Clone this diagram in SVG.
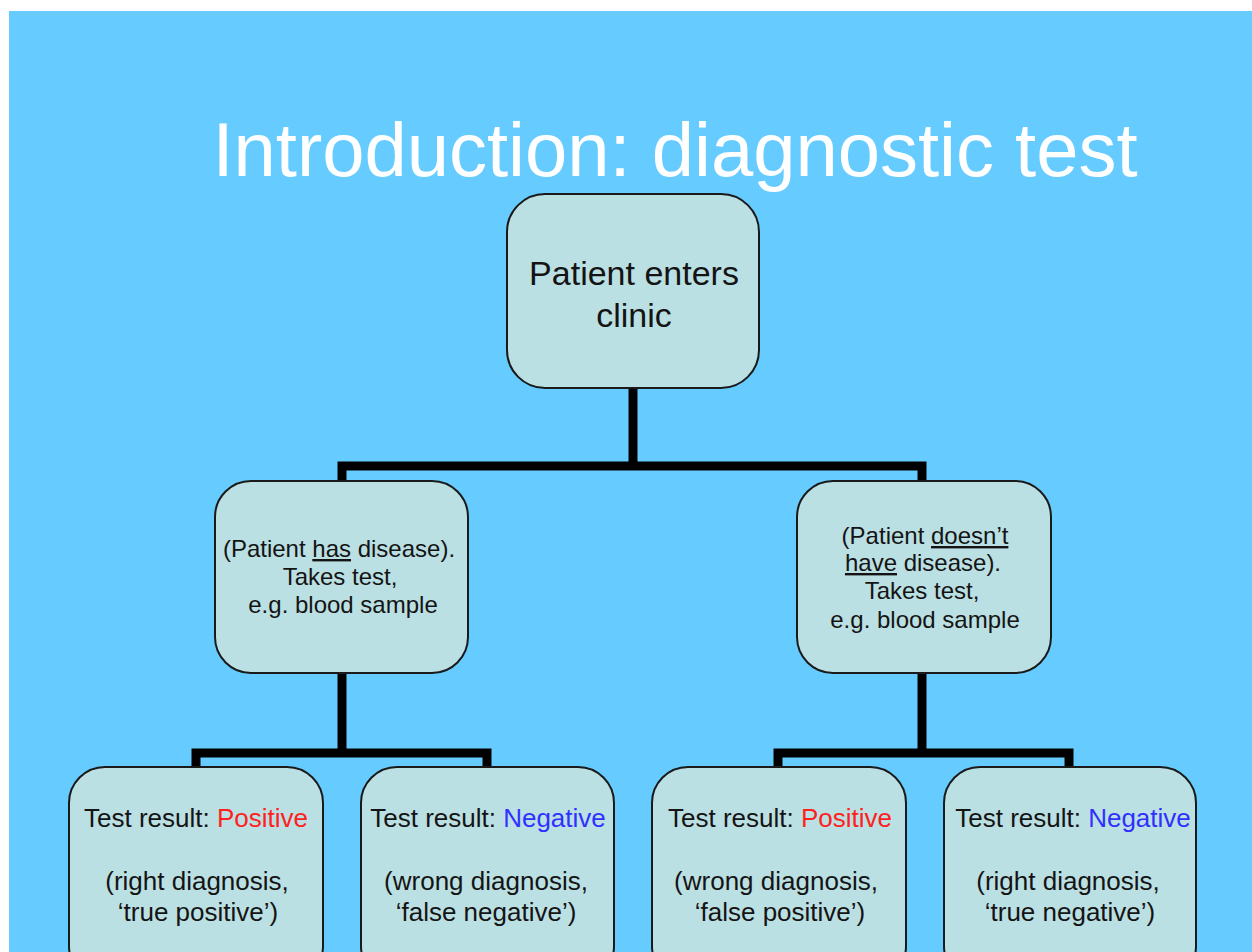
<svg xmlns="http://www.w3.org/2000/svg" width="1252" height="952" viewBox="0 0 1252 952">
<style>
.box{fill:#BBE0E3;stroke:#1a1a1a;stroke-width:2}
.t{font-family:"Liberation Sans",Arial,sans-serif;fill:#141414;text-anchor:middle}
.c{fill:none;stroke:#000;stroke-width:9;stroke-linejoin:miter;stroke-linecap:butt}
.pos{fill:#ff2020}
.neg{fill:#3030ff}
.u{text-decoration:underline}
</style>
<rect x="0" y="0" width="1252" height="952" fill="#ffffff"/>
<rect x="9" y="11" width="1243" height="941" fill="#66CCFF"/>
<text x="675" y="176" font-family="Liberation Sans, Arial, sans-serif" font-size="76" fill="#ffffff" text-anchor="middle">Introduction: diagnostic test</text>
<g id="connectors">
<path class="c" d="M633,388 V466"/>
<path class="c" d="M342,481 V466 H922 V481"/>
<path class="c" d="M342,672 V753"/>
<path class="c" d="M196,768 V753 H487 V768"/>
<path class="c" d="M922,672 V753"/>
<path class="c" d="M778,768 V753 H1069 V768"/>
</g>
<g id="root">
<rect class="box" x="507" y="194" width="252" height="194" rx="38"/>
<text class="t" font-size="34" x="634" y="285">Patient enters</text>
<text class="t" font-size="34" x="634" y="327">clinic</text>
</g>
<g id="has-disease">
<rect class="box" x="215" y="481" width="253" height="192" rx="36"/>
<text class="t" font-size="24" x="339" y="557">(Patient <tspan class="u">has</tspan> disease).</text>
<text class="t" font-size="24" x="340" y="585">Takes test,</text>
<text class="t" font-size="24" x="343" y="613">e.g. blood sample</text>
</g>
<g id="no-disease">
<rect class="box" x="797" y="481" width="254" height="192" rx="36"/>
<text class="t" font-size="24" x="925" y="544">(Patient <tspan class="u">doesn’t</tspan></text>
<text class="t" font-size="24" x="923" y="571"><tspan class="u">have</tspan> disease).</text>
<text class="t" font-size="24" x="922" y="599">Takes test,</text>
<text class="t" font-size="24" x="925" y="628">e.g. blood sample</text>
</g>
<g id="true-positive">
<rect class="box" x="69" y="767" width="254" height="215" rx="36"/>
<text class="t" font-size="26" x="196" y="827">Test result: <tspan class="pos">Positive</tspan></text>
<text class="t" font-size="26" x="197" y="890">(right diagnosis,</text>
<text class="t" font-size="26" x="198" y="921">‘true positive’)</text>
</g>
<g id="false-negative">
<rect class="box" x="361" y="767" width="253" height="215" rx="36"/>
<text class="t" font-size="26" x="488" y="827">Test result: <tspan class="neg">Negative</tspan></text>
<text class="t" font-size="26" x="486" y="890">(wrong diagnosis,</text>
<text class="t" font-size="26" x="486" y="921">‘false negative’)</text>
</g>
<g id="false-positive">
<rect class="box" x="652" y="767" width="254" height="215" rx="36"/>
<text class="t" font-size="26" x="780" y="827">Test result: <tspan class="pos">Positive</tspan></text>
<text class="t" font-size="26" x="776" y="890">(wrong diagnosis,</text>
<text class="t" font-size="26" x="780" y="921">‘false positive’)</text>
</g>
<g id="true-negative">
<rect class="box" x="944" y="767" width="252" height="215" rx="36"/>
<text class="t" font-size="26" x="1073" y="827">Test result: <tspan class="neg">Negative</tspan></text>
<text class="t" font-size="26" x="1068" y="890">(right diagnosis,</text>
<text class="t" font-size="26" x="1070" y="921">‘true negative’)</text>
</g>
</svg>
